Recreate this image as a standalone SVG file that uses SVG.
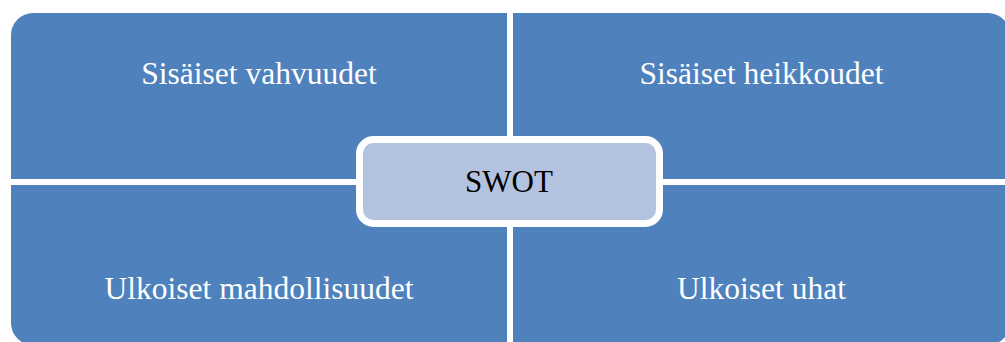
<svg xmlns="http://www.w3.org/2000/svg" width="1005" height="342" viewBox="0 0 1005 342">
<style>
.q{fill:#4F81BD;}
.t{font-family:"Liberation Serif","Times New Roman",serif;font-size:31.5px;fill:#FFFFFF;text-anchor:middle;}
.c{fill:#B3C2DE;stroke:#FFFFFF;stroke-width:7;}
.ct{font-family:"Liberation Serif","Times New Roman",serif;font-size:31px;fill:#000000;text-anchor:middle;}
</style>
<rect width="1005" height="342" fill="#FFFFFF"/>
<g id="strengths">
<path class="q" d="M11,35 A22,22 0 0 1 33,13 H507 V179 H11 Z"/>
<text class="t" x="259" y="84">Sisäiset vahvuudet</text>
</g>
<g id="weaknesses">
<path class="q" d="M513,13 H988 A22,22 0 0 1 1010,35 V179 H513 Z"/>
<text class="t" x="761.5" y="84">Sisäiset heikkoudet</text>
</g>
<g id="opportunities">
<path class="q" d="M11,185 H507 V345 H33 A22,22 0 0 1 11,323 Z"/>
<text class="t" x="259" y="299">Ulkoiset mahdollisuudet</text>
</g>
<g id="threats">
<path class="q" d="M513,185 H1010 V323 A22,22 0 0 1 988,345 H513 Z"/>
<text class="t" x="761.5" y="299">Ulkoiset uhat</text>
</g>
<g id="connectors"></g>
<g id="swot">
<rect class="c" x="359.5" y="139.5" width="300" height="84" rx="14" ry="14"/>
<text class="ct" x="509" y="192">SWOT</text>
</g>
</svg>
